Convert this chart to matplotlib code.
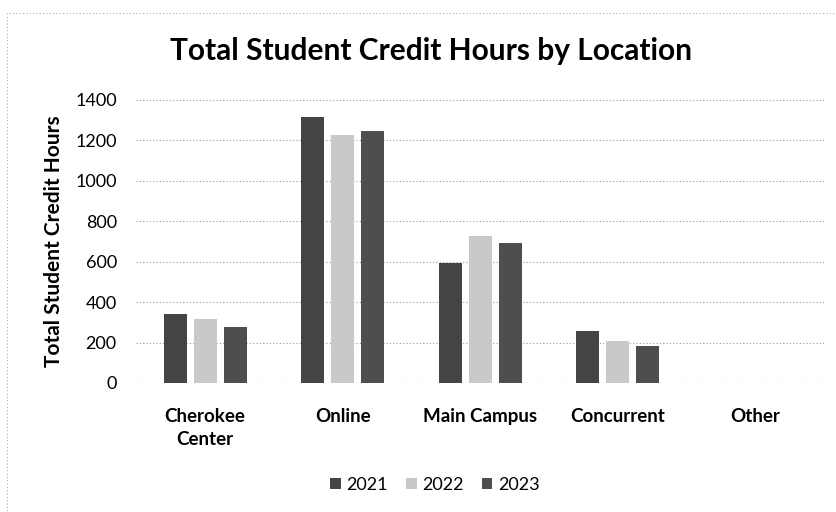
import matplotlib
matplotlib.use("Agg")
import matplotlib.pyplot as plt
import numpy as np
from matplotlib.patches import Rectangle

categories = ["Cherokee\nCenter", "Online", "Main Campus", "Concurrent", "Other"]
years = ["2021", "2022", "2023"]
v2021 = [340, 1315, 595, 255, 0]
v2022 = [315, 1225, 725, 210, 0]
v2023 = [275, 1245, 690, 185, 0]
yticks = [0, 200, 400, 600, 800, 1000, 1200, 1400]

series = [v2021, v2022, v2023]
colors = ["#444444", "#c9c9c9", "#4e4e4e"]

plt.rcParams['font.family'] = ['Lato', 'DejaVu Sans']
fig = plt.figure(figsize=(8.36, 5.12), dpi=100)
ax = fig.add_axes([0.163, 0.252, 0.823, 0.553])

x = np.arange(len(categories))
w = 0.167
step = 0.218
for i, (vals, c, yr) in enumerate(zip(series, colors, years)):
    ax.bar(x + (i - 1) * step, vals, width=w, color=c, label=yr, zorder=3)

ax.set_xlim(-0.5, len(categories) - 0.5)
ax.set_ylim(0, 1400)
ax.set_yticks(yticks)
ax.set_yticklabels([str(t) for t in yticks], fontsize=13)
ax.set_xticks(x)
ax.set_xticklabels(categories, fontsize=13.5, fontweight='bold', linespacing=1.45)
ax.tick_params(axis='y', length=0, pad=14)
ax.tick_params(axis='x', length=0, pad=18)
ax.yaxis.grid(True, linestyle=(0, (1, 2)), color='#999999', linewidth=0.8, zorder=0)
for s in ax.spines.values():
    s.set_visible(False)
ax.axhline(0, color='#999999', linestyle=(0, (1, 2)), linewidth=0.8, zorder=1)

ax.set_ylabel("Total Student Credit Hours", fontsize=15, fontweight='bold', labelpad=8)
fig.text(0.515, 0.90, "Total Student Credit Hours by Location", ha='center', va='center',
         fontsize=21.5, fontweight='bold')

leg = fig.legend(loc='center', bbox_to_anchor=(0.52, 0.053), ncol=3, frameon=False,
                 fontsize=13, handlelength=0.6, handleheight=0.6, handletextpad=0.3,
                 columnspacing=1.0)

border = Rectangle((0.008, -0.05), 1.2, 1.025, transform=fig.transFigure, fill=False,
                   edgecolor='#aaaaaa', linestyle=(0, (1, 2)), linewidth=0.8)
fig.patches.append(border)

fig.savefig("out.png", dpi=100)
